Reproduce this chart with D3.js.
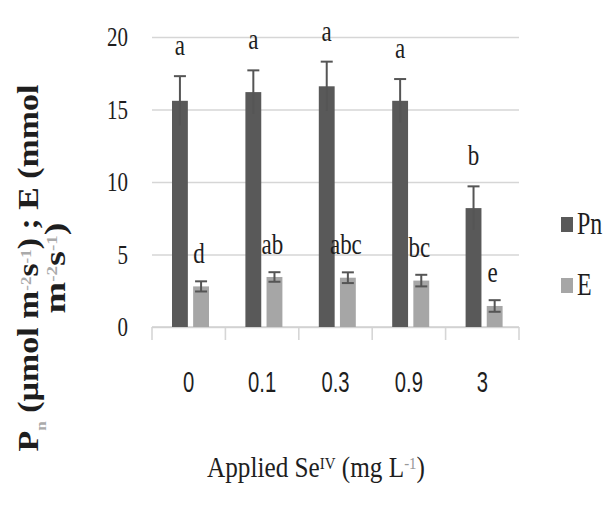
<!DOCTYPE html>
<html>
<head>
<meta charset="utf-8">
<script src="https://cdn.jsdelivr.net/npm/d3@7"></script>
<style>
  body { margin: 0; background: #fff; }
  svg { display: block; }
</style>
</head>
<body>
<svg id="chart" width="608" height="507"></svg>
<script>
const categories = ["0", "0.1", "0.3", "0.9", "3"];
const seriesNames = ["Pn", "E"];
const pnValues = [15.6, 16.2, 16.6, 15.6, 8.2];
const pnErrors = [1.7, 1.5, 1.7, 1.5, 1.5];
const pnLetters = ["a", "a", "a", "a", "b"];
const eValues = [2.8, 3.45, 3.4, 3.2, 1.45];
const eErrors = [0.35, 0.33, 0.37, 0.4, 0.4];
const eLetters = ["d", "ab", "abc", "bc", "e"];
const yTicks = [0, 5, 10, 15, 20];

const colors = {Pn: "#595959", E: "#a6a6a6"};
const plot = {left: 152, right: 519, top: 37, bottom: 327};
const serif = "'Liberation Serif', 'DejaVu Serif', serif";
const ink = "#1e1e1e";

const svg = d3.select("#chart");

const x0 = d3.scaleBand().domain(categories).range([plot.left, plot.right]);
const x1 = d3.scaleBand().domain(seriesNames).range([20, 57]).paddingInner(0.25);
const y = d3.scaleLinear().domain([0, 20]).range([plot.bottom, plot.top]);

// squeeze a text to a given width, keeping the vertical stretch
function fit(sel, width, sy, x, yy, rot) {
  const w = sel.node().getBBox().width;
  const sx = width / w;
  sel.attr("transform", `translate(${x},${yy}) rotate(${rot || 0}) scale(${sx},${sy})`);
}

// y axis + gridlines
const yAxis = svg.append("g")
  .attr("transform", `translate(${plot.left},0)`)
  .call(d3.axisLeft(y).tickValues(yTicks).tickSize(-(plot.right - plot.left)).tickSizeOuter(0).tickPadding(24));
yAxis.select(".domain").remove();
yAxis.selectAll("line").attr("stroke", "#d6d6d6").attr("stroke-width", 1.6);
yAxis.selectAll("text")
  .attr("font-family", serif)
  .attr("font-size", 21)
  .attr("fill", ink)
  .attr("transform", "scale(1,1.3)");

// x axis: boundary ticks and category labels
const bounds = categories.map(c => x0(c)).concat([plot.right]);
svg.append("g").selectAll("line")
  .data(bounds)
  .join("line")
  .attr("x1", d => d).attr("x2", d => d)
  .attr("y1", plot.bottom).attr("y2", plot.bottom + 13)
  .attr("stroke", "#d6d6d6").attr("stroke-width", 1.6);
svg.append("line")
  .attr("x1", plot.left).attr("x2", plot.right)
  .attr("y1", plot.bottom).attr("y2", plot.bottom)
  .attr("stroke", "#d0d0d0").attr("stroke-width", 1.6);

const xAxis = svg.append("g")
  .attr("transform", `translate(0,${plot.bottom})`)
  .call(d3.axisBottom(x0).tickSize(0));
xAxis.select(".domain").remove();
xAxis.selectAll("text")
  .attr("font-family", "'Liberation Sans', Arial, sans-serif")
  .attr("font-size", 23)
  .attr("fill", ink)
  .attr("y", 0).attr("dy", null)
  .attr("transform", "translate(0,65) scale(0.88,1.3)");

// bars
const rows = categories.map((c, i) => ({
  cat: c,
  items: [
    {s: "Pn", v: pnValues[i], err: pnErrors[i], lab: pnLetters[i]},
    {s: "E", v: eValues[i], err: eErrors[i], lab: eLetters[i]}
  ]
}));

const groups = svg.append("g").selectAll("g")
  .data(rows)
  .join("g")
  .attr("transform", d => `translate(${x0(d.cat)},0)`);

groups.selectAll("rect")
  .data(d => d.items)
  .join("rect")
  .attr("x", d => x1(d.s))
  .attr("width", x1.bandwidth())
  .attr("y", d => y(d.v))
  .attr("height", d => y(0) - y(d.v))
  .attr("fill", d => colors[d.s]);

// error bars
const cx = d => x1(d.s) + x1.bandwidth() / 2;
const err = groups.selectAll("g.err")
  .data(d => d.items)
  .join("g")
  .attr("class", "err")
  .attr("stroke", "#555")
  .attr("stroke-width", 2);
err.append("line")
  .attr("x1", cx).attr("x2", cx)
  .attr("y1", d => y(d.v - d.err)).attr("y2", d => y(d.v + d.err));
err.append("line")
  .attr("x1", d => cx(d) - 6).attr("x2", d => cx(d) + 6)
  .attr("y1", d => y(d.v + d.err)).attr("y2", d => y(d.v + d.err));
err.filter(d => d.s === "E").append("line")
  .attr("x1", d => cx(d) - 6).attr("x2", d => cx(d) + 6)
  .attr("y1", d => y(d.v - d.err)).attr("y2", d => y(d.v - d.err));

// significance letters
groups.selectAll("text")
  .data(d => d.items)
  .join("text")
  .attr("text-anchor", "middle")
  .attr("font-family", serif)
  .attr("font-size", 23)
  .attr("fill", ink)
  .attr("transform", d => `translate(${cx(d) - (d.s === "E" ? 2 : 0)},${y(d.v + d.err) - (d.s === "Pn" ? 21 : 18)}) scale(1,1.25)`)
  .text(d => d.lab);

// legend
const legend = svg.append("g").selectAll("g")
  .data(seriesNames)
  .join("g")
  .attr("transform", (d, i) => `translate(561,${217 + i * 61})`);
legend.append("rect")
  .attr("width", 12).attr("height", 15)
  .attr("fill", d => colors[d]);
legend.append("text")
  .attr("font-family", serif)
  .attr("font-size", 24)
  .attr("fill", ink)
  .attr("transform", "translate(16,17) scale(1,1.3)")
  .text(d => d);

// x title
const xt = svg.append("text")
  .attr("text-anchor", "middle")
  .attr("font-family", serif)
  .attr("font-size", 22)
  .attr("fill", ink);
xt.append("tspan").text("Applied Se");
xt.append("tspan").attr("font-size", 13).attr("baseline-shift", "super").text("IV");
xt.append("tspan").text(" (mg L");
xt.append("tspan").attr("font-size", 13).attr("baseline-shift", "super").attr("fill", "#999").text("-1");
xt.append("tspan").text(")");
fit(xt, 218, 1.3, 316, 477);

// y title, two lines
const yt1 = svg.append("text")
  .attr("text-anchor", "middle")
  .attr("font-family", serif)
  .attr("font-weight", "bold")
  .attr("font-size", 30)
  .attr("fill", ink);
yt1.append("tspan").text("P");
yt1.append("tspan").attr("font-size", 15).attr("baseline-shift", "sub").attr("fill", "#aaa").text("n");
yt1.append("tspan").text(" (µmol m");
yt1.append("tspan").attr("font-size", 15).attr("baseline-shift", "super").attr("fill", "#aaa").text("-2");
yt1.append("tspan").text("s");
yt1.append("tspan").attr("font-size", 15).attr("baseline-shift", "super").attr("fill", "#aaa").text("-1");
yt1.append("tspan").text(") ; E (mmol");
fit(yt1, 367, 1, 38, 268, -90);

const yt2 = svg.append("text")
  .attr("text-anchor", "middle")
  .attr("font-family", serif)
  .attr("font-weight", "bold")
  .attr("font-size", 30)
  .attr("fill", ink);
yt2.append("tspan").text("m");
yt2.append("tspan").attr("font-size", 15).attr("baseline-shift", "super").attr("fill", "#aaa").text("-2");
yt2.append("tspan").text("s");
yt2.append("tspan").attr("font-size", 15).attr("baseline-shift", "super").attr("fill", "#aaa").text("-1");
yt2.append("tspan").text(")");
fit(yt2, 91, 1, 65, 268, -90);
</script>
</body>
</html>
